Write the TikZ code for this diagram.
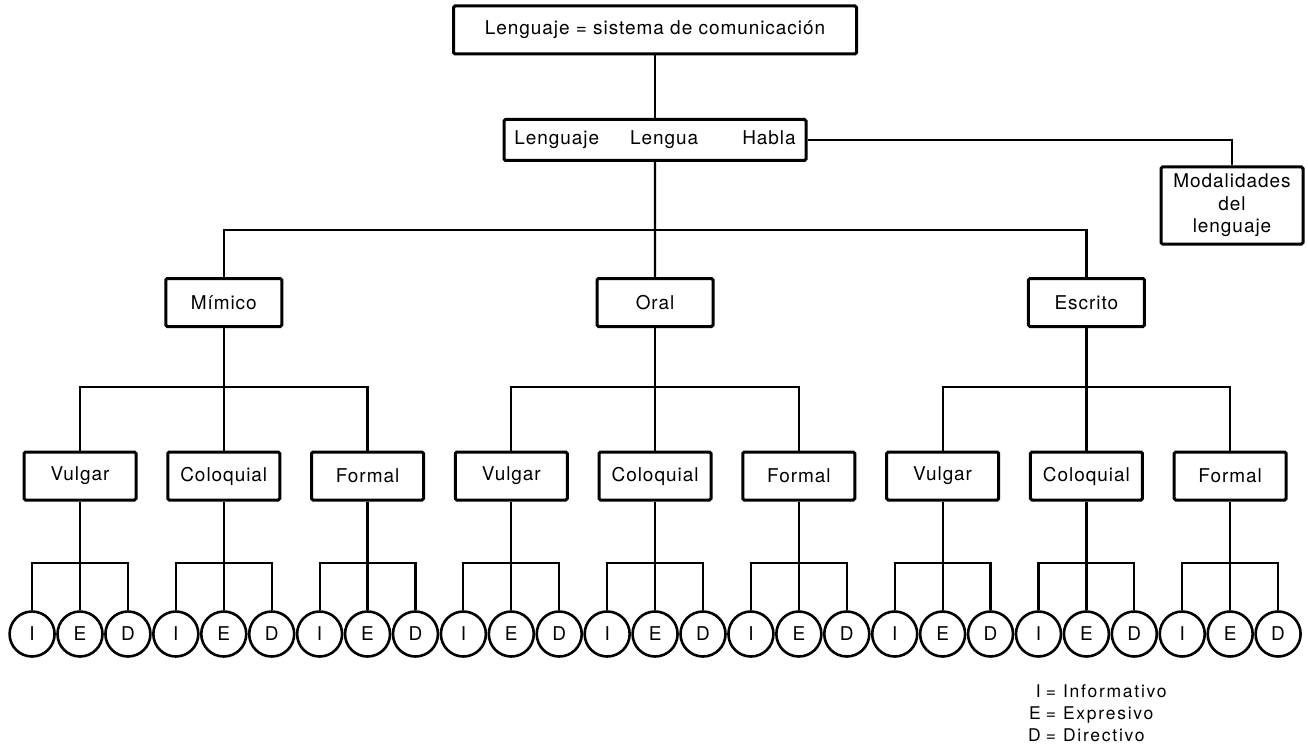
\documentclass[tikz,border=0pt]{standalone}
\usepackage{fontspec}
\setmainfont{TeX Gyre Heros}[LetterSpace=5]
\newfontfamily\legendfont{TeX Gyre Heros}[LetterSpace=10]
\begin{document}
\begin{tikzpicture}[x=1pt,y=-1pt,
  box/.style={draw, line width=3pt, rounded corners=1.5pt, inner sep=0pt,
    align=center, font=\fontsize{19}{22.5}\selectfont},
  lvltwo/.style={box, minimum width=116pt, minimum height=48pt},
  lvltree/.style={box, minimum width=112pt, minimum height=48pt},
  leaf/.style={draw, circle, line width=2.6pt, minimum size=45pt, inner sep=0pt,
    font=\fontsize{19}{22}\selectfont},
  link/.style={line width=2.2pt}]
\useasboundingbox (0,0) rectangle (1308,746);

% bus levels
\coordinate (bus1) at (0,230);
\coordinate (bus2) at (0,387);
\coordinate (bus3) at (0,563);

% top of the tree
\node[box, minimum width=403pt, minimum height=48pt] (top) at (655,30)
  {Lenguaje = sistema de comunicaci\'on};
\node[box, minimum width=302pt, minimum height=41pt] (mid) at (655,140)
  {Lenguaje\hspace{31pt}Lengua\hspace{44pt}Habla};
\node[box, minimum width=142pt, minimum height=77pt] (mod) at (1232,205.5)
  {Modalidades\\del\\lenguaje};

% channels
\foreach \i/\lbl in {0/M\'{\i}mico,1/Oral,2/Escrito}
  \node[lvltwo] (ch\i) at ({223.77+431.31*\i},302.5) {\lbl};

% registers and functions
\foreach \j/\lbl in {0/Vulgar,1/Coloquial,2/Formal,3/Vulgar,4/Coloquial,5/Formal,6/Vulgar,7/Coloquial,8/Formal} {
  \node[lvltree] (rg\j) at ({80+143.77*\j},476) {\lbl};
  \foreach \k/\t in {0/I,1/E,2/D}
    \node[leaf] (fn\j-\k) at ({80+143.77*\j+47.92*(\k-1)},634) {\t};
}

% connectors
\draw[link] (top.south) -- (mid.north);
\draw[link] (mid.south) -- (ch1.north);
\draw[link] (mid.east) -| (mod.north);
\draw[link] (ch0.north) -- (ch0.north |- bus1) -- (ch2.north |- bus1) -- (ch2.north);

\foreach \i in {0,1,2} {
  \pgfmathtruncatemacro\a{3*\i}
  \pgfmathtruncatemacro\b{3*\i+1}
  \pgfmathtruncatemacro\c{3*\i+2}
  \draw[link] (ch\i.south) -- (ch\i.south |- bus2);
  \draw[link] (rg\a.north) -- (rg\a.north |- bus2) -- (rg\c.north |- bus2) -- (rg\c.north);
  \draw[link] (rg\b.north) -- (rg\b.north |- bus2);
}

\foreach \j in {0,...,8} {
  \draw[link] (rg\j.south) -- (rg\j.south |- bus3);
  \draw[link] (fn\j-0.north) -- (fn\j-0.north |- bus3) -- (fn\j-2.north |- bus3) -- (fn\j-2.north);
  \draw[link] (fn\j-1.north) -- (fn\j-1.north |- bus3);
}

% key to the letters
\node[anchor=north west, inner sep=0pt, font=\legendfont\fontsize{17.5}{22}\selectfont] (key) at (1028,681.6)
  {\begin{tabular}{@{}r@{\hspace{5pt}=\hspace{7pt}}l@{}}
   I & Informativo\\
   E & Expresivo\\
   D & Directivo
   \end{tabular}};
\end{tikzpicture}
\end{document}
